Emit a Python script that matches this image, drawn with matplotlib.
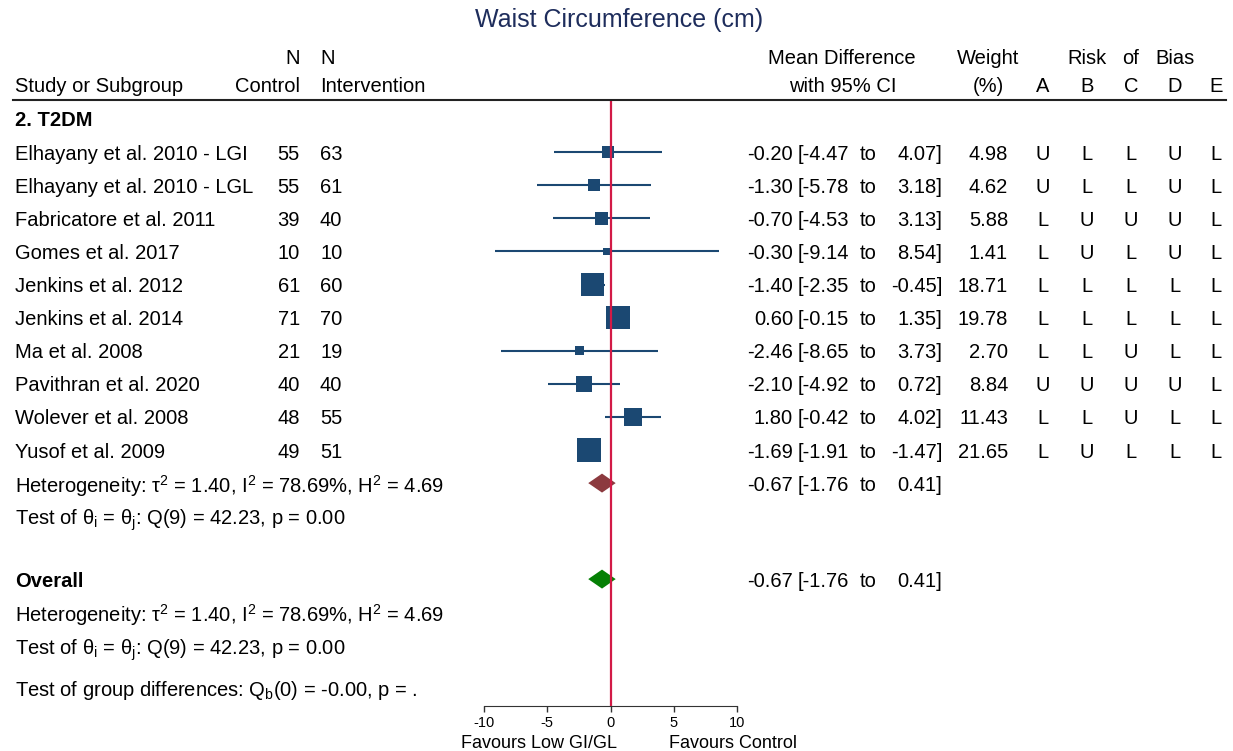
import numpy as np
import matplotlib
matplotlib.use('Agg')
from matplotlib import pyplot as plt
from matplotlib.transforms import blended_transform_factory
from matplotlib.lines import Line2D

plt.rcParams['font.family'] = ['Liberation Sans', 'DejaVu Sans']
plt.rcParams['mathtext.fontset'] = 'custom'
plt.rcParams['mathtext.rm'] = 'Liberation Sans'
plt.rcParams['mathtext.it'] = 'Liberation Sans:italic'
plt.rcParams['mathtext.bf'] = 'Liberation Sans:bold'
plt.rcParams['axes.unicode_minus'] = False

# data
studies = ['Elhayany et al. 2010 - LGI', 'Elhayany et al. 2010 - LGL', 'Fabricatore et al. 2011',
           'Gomes et al. 2017', 'Jenkins et al. 2012', 'Jenkins et al. 2014', 'Ma et al. 2008',
           'Pavithran et al. 2020', 'Wolever et al. 2008', 'Yusof et al. 2009']
n_control = [55, 55, 39, 10, 61, 71, 21, 40, 48, 49]
n_interv = [63, 61, 40, 10, 60, 70, 19, 40, 55, 51]
md = [-0.20, -1.30, -0.70, -0.30, -1.40, 0.60, -2.46, -2.10, 1.80, -1.69]
lo = [-4.47, -5.78, -4.53, -9.14, -2.35, -0.15, -8.65, -4.92, -0.42, -1.91]
hi = [4.07, 3.18, 3.13, 8.54, -0.45, 1.35, 3.73, 0.72, 4.02, -1.47]
weight = [4.98, 4.62, 5.88, 1.41, 18.71, 19.78, 2.70, 8.84, 11.43, 21.65]
rob = ['ULLUL', 'ULLUL', 'LUUUL', 'LULUL', 'LLLLL', 'LLLLL', 'LLULL', 'UUUUL', 'LLULL', 'LULLL']
rob_cols = ['A', 'B', 'C', 'D', 'E']
pooled = (-0.67, -1.76, 0.41)
het_text = r'Heterogeneity: τ$^2$ = 1.40, I$^2$ = 78.69%, H$^2$ = 4.69'
test_text = r'Test of θ$_\mathrm{i}$ = θ$_\mathrm{j}$: Q(9) = 42.23, p = 0.00'
group_text = r'Test of group differences: Q$_\mathrm{b}$(0) = -0.00, p = .'

W, H = 1233, 751
def fx(p):
    return p / W

sq_col = '#1b4872'
red = '#d21a46'

fig = plt.figure(figsize=(W / 100, H / 100), dpi=100)
# forest axes: -10..10 spans px 484..737, rows spaced 33.1 px starting at px 119
ax = fig.add_axes([fx(484), (H - 706) / H, fx(737 - 484), (706 - 100) / H])
row0, step = 119, 33.1
ax.set_ylim((706 - row0) / step, (100 - row0) / step)
ax.set_xlim(-10, 10)
for s in ['top', 'right', 'left']:
    ax.spines[s].set_visible(False)
ax.spines['bottom'].set_color('#333333')
ax.set_yticks([])
ax.set_xticks([-10, -5, 0, 5, 10])
ax.tick_params(axis='x', direction='out', length=4, width=1, labelsize=10.5, pad=3, color='#333333')

rows = np.arange(1, len(studies) + 1)
ax.hlines(rows, lo, hi, color=sq_col, lw=1.5, zorder=2)
side = 5.0 * np.sqrt(weight) + 1.0
ax.scatter(md, rows, marker='s', s=(side * 0.72) ** 2, color=sq_col, linewidths=0, zorder=3)
ax.axvline(0, color=red, lw=1.6, zorder=5)

def diamond(r, est, l, h, color):
    hh = 9.5 / step
    ax.fill([l, est, h, est], [r, r - hh, r, r + hh], color=color, lw=0, zorder=4)

sub_row, overall_row = 11, 13.9
diamond(sub_row, *pooled, '#8c3a3f')
diamond(overall_row, *pooled, '#058005')

tr = blended_transform_factory(fig.transFigure, ax.transData)
fs = 14.5

def t(x, r, s, ha='left', **kw):
    ax.text(fx(x), r, s, transform=tr, ha=ha, va='center_baseline', fontsize=kw.pop('fontsize', fs), **kw)

# title and header
t(619, (18 - row0) / step, 'Waist Circumference (cm)', ha='center', fontsize=18, color='#1e2d5c')
r1, r2 = (57 - row0) / step, (84 - row0) / step
t(300, r1, 'N', ha='right')
t(320, r1, 'N')
t(15, r2, 'Study or Subgroup')
t(300, r2, 'Control', ha='right')
t(320, r2, 'Intervention')
t(842, r1, 'Mean Difference', ha='center')
t(843, r2, 'with 95% CI', ha='center')
t(988, r1, 'Weight', ha='center')
t(988, r2, '(%)', ha='center')
for x, w in zip([1087, 1131, 1175], ['Risk', 'of', 'Bias']):
    t(x, r1, w, ha='center')
rob_x = [1043, 1087, 1131, 1175, 1216]
for x, c in zip(rob_x, rob_cols):
    t(x, r2, c, ha='center')
fig.add_artist(Line2D([fx(13), fx(1226)], [(H - 100) / H] * 2, color='#222222', lw=1.5))

t(15, 0, '2. T2DM', fontweight='bold')

def ci_text(r, est, l, h):
    t(793, r, f'{est:.2f}', ha='right')
    t(849, r, f'[{l:.2f}', ha='right')
    t(868, r, 'to', ha='center')
    t(942, r, f'{h:.2f}]', ha='right')

for i, r in enumerate(rows):
    t(15, r, studies[i])
    t(300, r, str(n_control[i]), ha='right')
    t(320, r, str(n_interv[i]))
    ci_text(r, md[i], lo[i], hi[i])
    t(1008, r, f'{weight[i]:.2f}', ha='right')
    for x, c in zip(rob_x, rob[i]):
        t(x, r, c, ha='center')

t(15, sub_row, het_text)
ci_text(sub_row, *pooled)
t(15, 12, test_text)
t(15, overall_row, 'Overall', fontweight='bold')
ci_text(overall_row, *pooled)
t(15, (612 - row0) / step, het_text)
t(15, (646 - row0) / step, test_text)
t(15, (688 - row0) / step, group_text)

fav_r = (742 - row0) / step
t(617, fav_r, 'Favours Low GI/GL', ha='right', fontsize=13)
t(669, fav_r, 'Favours Control', fontsize=13)

fig.savefig('out.png', dpi=100)
